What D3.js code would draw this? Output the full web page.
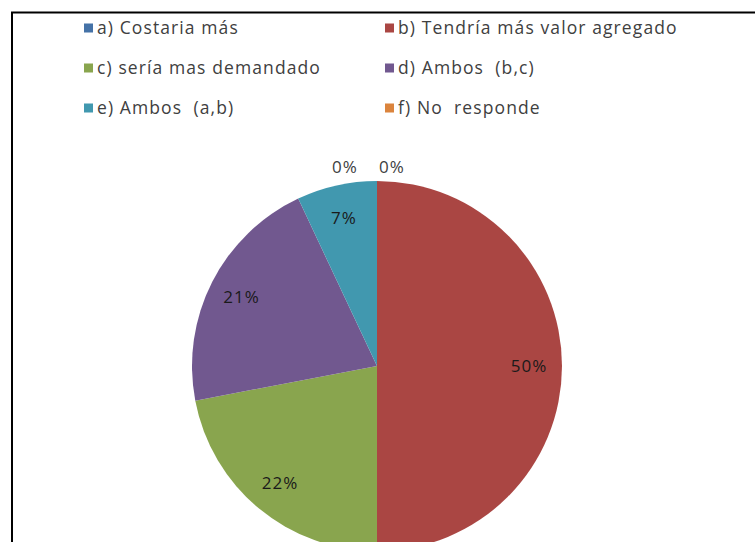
<!DOCTYPE html>
<html>
<head>
<meta charset="utf-8">
<script src="https://cdn.jsdelivr.net/npm/d3@7"></script>
<style>
  body { margin: 0; background: #fff; }
  svg { display: block; }
  text { white-space: pre; }
</style>
</head>
<body>
<div id="chart"></div>
<script>
// chart data
const categories = [
  'a) Costaria más',
  'b) Tendría más valor agregado',
  'c) sería mas demandado',
  'd) Ambos  (b,c)',
  'e) Ambos  (a,b)',
  'f) No  responde'
];
const values = [0, 50, 22, 21, 7, 0];
const colors = ['#4572A7', '#AA4643', '#89A54E', '#71588F', '#4198AF', '#DB843D'];

const createGraph = () => {
  const width = 755;
  const height = 542;
  const cx = 377;
  const cy = 366;
  const radius = 185;
  const font = "'Open Sans', 'DejaVu Sans', sans-serif";

  const color = d3.scaleOrdinal().domain(categories).range(colors);

  const svg = d3.select('#chart').append('svg')
    .attr('width', width)
    .attr('height', height);

  // chart frame (right and bottom edges fall outside the picture)
  svg.append('rect')
    .attr('x', 12)
    .attr('y', 12.5)
    .attr('width', 800)
    .attr('height', 600)
    .style('fill', 'none')
    .style('stroke', '#000')
    .style('stroke-width', 2);

  // legend, two columns
  const legendX = d3.scaleOrdinal().domain([0, 1]).range([84, 385]);
  const legendY = d3.scalePoint().domain([0, 1, 2]).range([28, 108]);

  const legend = svg.selectAll('.legend')
    .data(categories)
    .enter().append('g')
    .attr('class', 'legend')
    .attr('transform', (d, i) => `translate(${legendX(i % 2)}, ${legendY(Math.floor(i / 2))})`);

  legend.append('rect')
    .attr('x', 0)
    .attr('y', -4.5)
    .attr('width', 9)
    .attr('height', 9)
    .style('fill', d => color(d));

  legend.append('text')
    .attr('x', 13)
    .attr('dy', '0.35em')
    .style('font', `17.5px ${font}`)
    .style('letter-spacing', '1.1px')
    .style('fill', '#404040')
    .text(d => d);

  // pie
  const pie = d3.pie().sort(null).value(d => d.value);
  const arc = d3.arc().innerRadius(0).outerRadius(radius);
  const labelArc = d3.arc().innerRadius(152).outerRadius(152);

  const slices = pie(categories.map((c, i) => ({ name: c, value: values[i], idx: i })));
  const total = d3.sum(values);
  const pct = d => `${Math.round(d.data.value / total * 100)}%`;

  const g = svg.append('g')
    .attr('transform', `translate(${cx}, ${cy})`);

  g.selectAll('path')
    .data(slices)
    .enter().append('path')
    .attr('d', arc)
    .style('fill', d => color(d.data.name));

  // labels inside the slices
  g.selectAll('.inlabel')
    .data(slices.filter(d => d.data.value > 0))
    .enter().append('text')
    .attr('class', 'inlabel')
    .attr('transform', d => `translate(${labelArc.centroid(d)})`)
    .attr('dy', '0.35em')
    .style('text-anchor', 'middle')
    .style('font', `17px ${font}`)
    .style('letter-spacing', '1px')
    .style('fill', '#1a1a1a')
    .text(pct);

  // empty slices get their label just outside the top of the pie
  g.selectAll('.outlabel')
    .data(slices.filter(d => d.data.value === 0))
    .enter().append('text')
    .attr('class', 'outlabel')
    .attr('x', d => (d.startAngle < Math.PI ? 15 : -32))
    .attr('y', -radius - 14)
    .attr('dy', '0.35em')
    .style('text-anchor', 'middle')
    .style('font', `17px ${font}`)
    .style('letter-spacing', '1px')
    .style('fill', '#404040')
    .text(pct);
};

createGraph();
</script>
</body>
</html>
